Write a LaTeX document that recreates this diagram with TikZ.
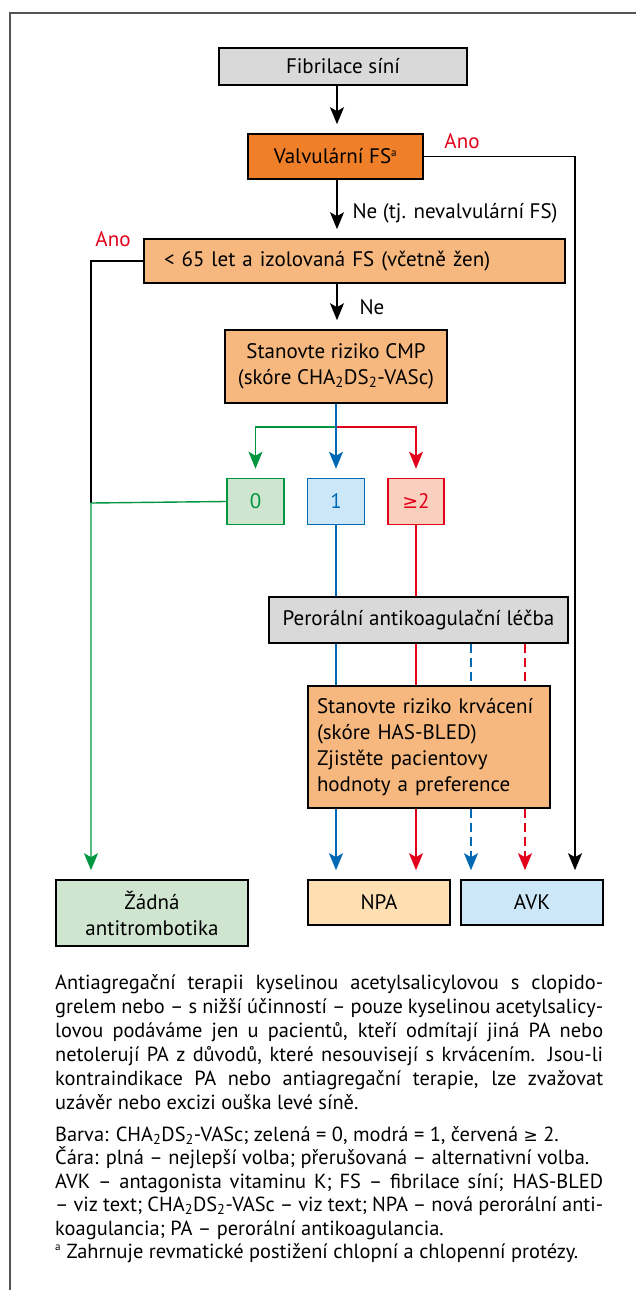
\documentclass[tikz,border=0pt]{standalone}
\usepackage{fontspec}
\setmainfont{PT Sans}
\newfontfamily\symfont{DejaVu Sans}
\usetikzlibrary{arrows.meta}

\definecolor{grayfill}{HTML}{D9D9D9}
\definecolor{orangedark}{HTML}{EF7F28}
\definecolor{orangelight}{HTML}{F6B87E}
\definecolor{peach}{HTML}{FDDFB3}
\definecolor{skyfill}{HTML}{CCE8F8}
\definecolor{mintfill}{HTML}{CFE5D0}
\definecolor{rosefill}{HTML}{F9CFBD}
\definecolor{lgreen}{HTML}{00963F}
\definecolor{lblue}{HTML}{0069B4}
\definecolor{lred}{HTML}{E3001B}
\definecolor{framegray}{HTML}{555555}

\newcommand{\chads}{CHA\textsubscript{2}DS\textsubscript{2}-VASc}
\newcommand{\jline}[1]{\hbox to 548pt{#1}}
\newcommand{\lline}[1]{\hbox to 548pt{#1\hfil}}
\newcommand{\smallsup}[1]{\textsuperscript{\fontsize{11}{12}\selectfont #1}}

\begin{document}
\begin{tikzpicture}[x=1pt,y=-1pt,
  font=\fontsize{21}{26}\selectfont,
  box/.style={draw=black, line width=1.6pt, rectangle, inner sep=0pt, align=center},
  tip/.style={-{Stealth[length=17pt,width=14pt,inset=4pt]}, shorten >=9pt},
  link/.style={line width=1.4pt},
  dashlink/.style={line width=1.4pt, dash pattern=on 9pt off 5pt},
  notetext/.style={anchor=base west, inner sep=0pt, font=\fontsize{20.4}{24}\selectfont}]

\useasboundingbox (0,0) rectangle (636,1290);
\fill[white] (0,0) rectangle (636,1290);

% outer frame
\draw[framegray, line width=1.4pt] (636,13) -- (10,13) -- (10,1290);

% column positions of the vertical connectors
\coordinate (cx) at (337,0);
\coordinate (rx) at (575,0);
\coordinate (dbx) at (471,0);
\coordinate (drx) at (525,0);
\coordinate (gj) at (91,503);
\coordinate (by) at (0,427);

% boxes
\node[box, fill=grayfill, minimum width=248pt, minimum height=37pt] (fib) at (343,66.5) {Fibrilace síní};
\node[box, fill=orangedark, minimum width=175pt, minimum height=45pt] (valv) at (335.5,156.5) {Valvulární FS\smallsup{a}};
\node[box, fill=orangelight, minimum height=44pt, text width=381pt, align=left, inner xsep=20pt] (lt) at (354.5,261) {< 65 let a izolovaná FS (včetně žen)};
\node[box, fill=orangelight, minimum width=222pt, minimum height=73pt] (cmp) at (336,366.5) {Stanovte riziko CMP\\(skóre \chads)};
\node[box, draw=lgreen, fill=mintfill, text=lgreen, minimum width=57pt, minimum height=46pt] (b0) at (255.5,501.5) {0};
\node[box, draw=lblue, fill=skyfill, text=lblue, minimum width=57pt, minimum height=46pt] (b1) at (336,501.5) {1};
\node[box, draw=lred, fill=rosefill, text=lred, minimum width=56pt, minimum height=46pt] (b2) at (416,501.5) {{\symfont\fontsize{19}{20}\selectfont ≥}2};
\node[box, fill=grayfill, minimum width=299pt, minimum height=46pt] (per) at (418.5,620) {Perorální antikoagulační léčba};
\node[box, fill=orangelight, minimum height=122pt, text width=224pt, align=left, inner xsep=9pt] (kr) at (429,747) {Stanovte riziko krvácení\\(skóre HAS-BLED)\\Zjistěte pacientovy\\hodnoty a preference};
\node[box, fill=mintfill, minimum width=192pt, minimum height=66pt] (zad) at (152,913) {Žádná\\antitrombotika};
\node[box, fill=peach, minimum width=142pt, minimum height=45pt] (npa) at (379,902.5) {NPA};
\node[box, fill=skyfill, minimum width=142pt, minimum height=45pt] (avk) at (532,902.5) {AVK};

% labels on the decision branches
\node[text=lred] (ano1) at (462,141) {Ano};
\node[anchor=west] (ne1) at (349,213) {Ne (tj. nevalvulární FS)};
\node[text=lred] (ano2) at (113,239) {Ano};
\node[anchor=west] (ne2) at (356,307) {Ne};

% main black flow
\draw[link, tip] (fib.south -| cx) -- (valv.north -| cx);
\draw[link, tip] (valv.south -| cx) -- (lt.north -| cx);
\draw[link, tip] (lt.south -| cx) -- (cmp.north -| cx);
\draw[link, tip] (valv.east) -| (avk.north -| rx);
\draw[link] (lt.west) -| (gj);

% CHA2DS2-VASc branches
\draw[link, lgreen, tip] (cmp.south |- by) -| (b0.north);
\draw[link, lred, tip] (cmp.south |- by) -| (b2.north);
\draw[link, lblue, tip] (cmp.south -| b1) -- (b1.north);

% score 0: no antithrombotics
\draw[link, lgreen, tip] (b0.west) -- (gj) -- (zad.north -| gj);

% scores 1 and >= 2: oral anticoagulation
\draw[link, lblue] (b1.south) -- (per.north -| b1);
\draw[link, lred] (b2.south) -- (per.north -| b2);
\draw[link, lblue] (per.south -| b1) -- (kr.north -| b1);
\draw[link, lred] (per.south -| b2) -- (kr.north -| b2);
\draw[dashlink, lblue] (per.south -| dbx) -- (kr.north -| dbx);
\draw[dashlink, lred] (per.south -| drx) -- (kr.north -| drx);
\draw[link, lblue, tip] (kr.south -| b1) -- (npa.north -| b1);
\draw[link, lred, tip] (kr.south -| b2) -- (npa.north -| b2);
\draw[dashlink, lblue, tip] (kr.south -| dbx) -- (avk.north -| dbx);
\draw[dashlink, lred, tip] (kr.south -| drx) -- (avk.north -| drx);

% notes below the chart
\node[notetext] (note1) at (55,989) {\hfuzz=50pt\hbadness=10000\vtop{\baselineskip=24pt
\jline{Antiagregační terapii kyselinou acetylsalicylovou s clopido-}
\jline{grelem nebo – s nižší účinností – pouze kyselinou acetylsalicy-}
\jline{lovou podáváme jen u pacientů, kteří odmítají jiná PA nebo}
\jline{netolerují PA z důvodů, které nesouvisejí s krvácením. Jsou-li}
\jline{kontraindikace PA nebo antiagregační terapie, lze zvažovat}
\lline{uzávěr nebo excizi ouška levé síně.}}};

\node[notetext] (note2) at (55,1141) {\hfuzz=50pt\hbadness=10000\vtop{\baselineskip=23.5pt
\lline{Barva: \chads; zelená = 0, modrá = 1, červená {\symfont\fontsize{17}{20}\selectfont ≥} 2.}
\lline{Čára: plná – nejlepší volba; přerušovaná – alternativní volba.}
\jline{AVK – antagonista vitaminu K; FS – fibrilace síní; HAS-BLED}
\jline{– viz text; \chads{} – viz text; NPA – nová perorální anti-}
\lline{koagulancia; PA – perorální antikoagulancia.}
\lline{\smallsup{a} Zahrnuje revmatické postižení chlopní a chlopenní protézy.}}};

\end{tikzpicture}
\end{document}
